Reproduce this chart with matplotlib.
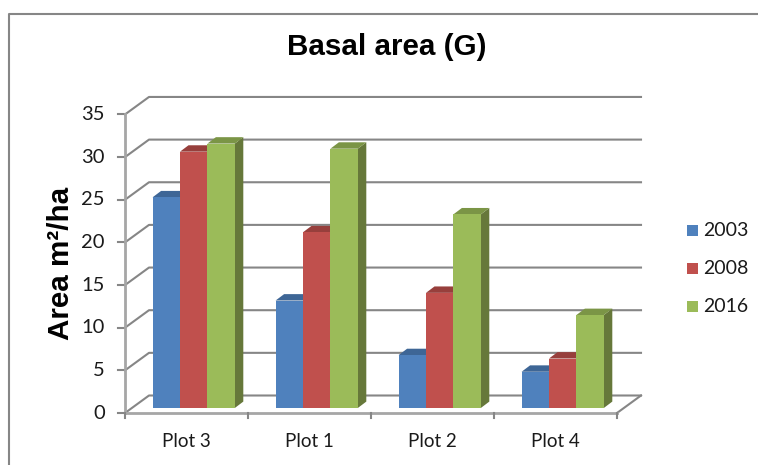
"""Basal area per plot, drawn as a fake 3D clustered column chart."""

import matplotlib
matplotlib.use("Agg")
import matplotlib.pyplot as plt
from matplotlib.lines import Line2D
from matplotlib.patches import Polygon

plots = ["Plot 3", "Plot 1", "Plot 2", "Plot 4"]
years = ["2003", "2008", "2016"]
g2003 = [24.7, 12.6, 6.2, 4.25]
g2008 = [30.05, 20.6, 13.5, 5.8]
g2016 = [31.0, 30.4, 22.7, 10.9]
y_ticks = [0, 5, 10, 15, 20, 25, 30, 35]

front = ["#4F81BD", "#C0504D", "#9BBB59"]
top = ["#3E6696", "#973F3C", "#7B9546"]
side = ["#355782", "#823533", "#66783A"]
GREY = "#868686"

W, H = 758, 465
PX, PY = 123.0, 8.53  # pixels per category, pixels per value unit

fig = plt.figure(figsize=(W / 100, H / 100), dpi=100)
ax = fig.add_axes([125 / W, 1 - 413 / H, 492 / W, 35 * PY / H])
ax.set_xlim(0, 4)
ax.set_ylim(0, 35)
ax.axis("off")

# wall depth and bar depth, in data units
wall_dx, wall_dy = 24 / PX, 17.5 / PY
bar_dx, bar_dy = 8.5 / PX, 6.4 / PY
base_x, base_y = 27.6 / PX, 5 / PY
bar_w = 27.4 / PX

# back wall and floor
for t in y_ticks:
    ax.plot([0, wall_dx, 4 + wall_dx], [t, t + wall_dy, t + wall_dy],
            color=GREY, lw=1.5, clip_on=False, zorder=1)
    ax.plot([-7 / PX, 0], [t, t], color=GREY, lw=1.5, clip_on=False, zorder=1)
ax.plot([4, 4 + wall_dx], [0, wall_dy], color=GREY, lw=1.5, clip_on=False, zorder=1)
ax.plot([0, 0], [0, 35], color="#A6A6A6", lw=2, clip_on=False, zorder=1)
ax.plot([0, 4], [0, 0], color="#A6A6A6", lw=2, clip_on=False, zorder=1)
for i in range(5):
    ax.plot([i, i], [0, -5 / PY], color=GREY, lw=1.5, clip_on=False, zorder=1)

for s, values in enumerate([g2003, g2008, g2016]):
    for i, v in enumerate(values):
        x0 = i + base_x + s * bar_w
        x1 = x0 + bar_w
        y1 = base_y + v
        ax.add_patch(Polygon([(x1, base_y), (x1 + bar_dx, base_y + bar_dy),
                              (x1 + bar_dx, y1 + bar_dy), (x1, y1)],
                             fc=side[s], ec="none", clip_on=False, zorder=2 + s))
        ax.add_patch(Polygon([(x0, y1), (x0 + bar_dx, y1 + bar_dy),
                              (x1 + bar_dx, y1 + bar_dy), (x1, y1)],
                             fc=top[s], ec="none", clip_on=False, zorder=2 + s))
        ax.bar(x0, v, bar_w, bottom=base_y, align="edge", color=front[s],
               clip_on=False, zorder=2 + s)

for t in y_ticks:
    ax.text(-20 / PX, t, str(t), ha="right", va="center", fontsize=14.5,
            family="Lato", color="#1A1A1A", clip_on=False)
for i, name in enumerate(plots):
    ax.text(i + 0.5, -28 / PY, name, ha="center", va="center", fontsize=13.5,
            family="Lato", color="#1A1A1A", clip_on=False)

fig.text(387 / W, 1 - 47 / H, "Basal area (G)", ha="center", va="center",
         fontsize=21.3, fontweight="bold", family="Liberation Sans")
fig.text(61 / W, 1 - 263 / H, "Area m²/ha", ha="center", va="center",
         rotation=90, fontsize=21.3, fontweight="bold", family="Liberation Sans")

# legend
for s, year in enumerate(years):
    y = 1 - (230.5 + s * 38) / H
    fig.patches.append(plt.Rectangle((687 / W, y - 5.5 / H), 11 / W, 11 / H, fc=front[s],
                                     ec="none", transform=fig.transFigure))
    fig.text(703 / W, y, year, ha="left", va="center", fontsize=14,
             family="Lato", color="#1A1A1A")

# chart frame, the crop cuts off its right and bottom edges
fig.add_artist(Line2D([8.5 / W, 8.5 / W, 1],
                      [0, 1 - 14.5 / H, 1 - 14.5 / H], color=GREY, lw=1.5))

fig.savefig("out.png", dpi=100)
